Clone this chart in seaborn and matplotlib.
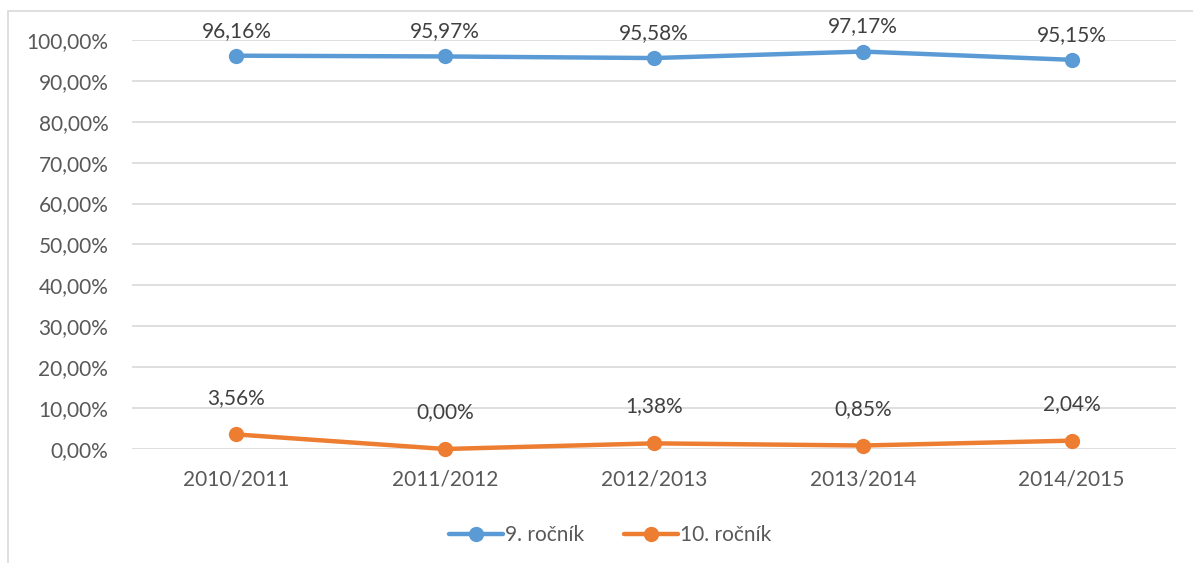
import matplotlib
matplotlib.use("Agg")
import matplotlib.pyplot as plt
import matplotlib.patches as mpatches
import seaborn as sns
import pandas as pd

roky = ["2010/2011", "2011/2012", "2012/2013", "2013/2014", "2014/2015"]
rocnik9 = [96.16, 95.97, 95.58, 97.17, 95.15]
rocnik10 = [3.56, 0.00, 1.38, 0.85, 2.04]
serie = ["9. ročník", "10. ročník"]
farby = ["#5B9BD5", "#ED7D31"]
yticks = [0, 10, 20, 30, 40, 50, 60, 70, 80, 90, 100]

df = pd.DataFrame({"rok": roky * 2,
                   "hodnota": rocnik9 + rocnik10,
                   "serie": [serie[0]] * 5 + [serie[1]] * 5})
df["x"] = list(range(5)) * 2

sns.set_style("white")
plt.rcParams["font.family"] = ["Lato", "DejaVu Sans"]
sivy = "#595959"

fig = plt.figure(figsize=(11.93, 5.63), dpi=100)
ax = fig.add_axes([0.1106, 0.2025, 0.8751, 0.7265])

# okraj grafu
fig.patches.append(mpatches.Rectangle((8 / 1193, -0.01), 1.2, 1 - 11 / 563 + 0.01,
                                      transform=fig.transFigure, fill=False,
                                      edgecolor="#D9D9D9", linewidth=1.2))

sns.lineplot(data=df, x="x", y="hodnota", hue="serie", palette=farby,
             marker="o", markersize=11, markeredgewidth=0, linewidth=3.2,
             ax=ax, legend=True, clip_on=False)

for i, (a, b) in enumerate(zip(rocnik9, rocnik10)):
    ax.annotate(f"{a:.2f}%".replace(".", ","), (i, a), xytext=(0, 18),
                textcoords="offset points", ha="center", va="center",
                fontsize=15, color="#404040")
    ax.annotate(f"{b:.2f}%".replace(".", ","), (i, b), xytext=(0, 26.5),
                textcoords="offset points", ha="center", va="center",
                fontsize=15, color="#404040")

ax.set_xlim(-0.5, 4.5)
ax.set_ylim(0, 100)
ax.set_yticks(yticks)
ax.set_yticklabels([f"{v},00%" for v in yticks])
ax.set_xticks(range(5))
ax.set_xticklabels(roky)
ax.tick_params(axis="both", length=0, labelsize=15, labelcolor=sivy)
ax.tick_params(axis="y", pad=17)
ax.tick_params(axis="x", pad=15)
ax.yaxis.grid(True, color="#D9D9D9", linewidth=1.2)
ax.set_axisbelow(True)
for s in ax.spines.values():
    s.set_visible(False)
ax.set_xlabel("")
ax.set_ylabel("")

h, l = ax.get_legend_handles_labels()
ax.legend(h, l, loc="center", bbox_to_anchor=((610 - 132) / 1044, -0.21),
          ncol=2, frameon=False, fontsize=15, labelcolor=sivy,
          handlelength=2.6, handletextpad=0.1, columnspacing=1.9)

fig.savefig("out.png", dpi=100)
